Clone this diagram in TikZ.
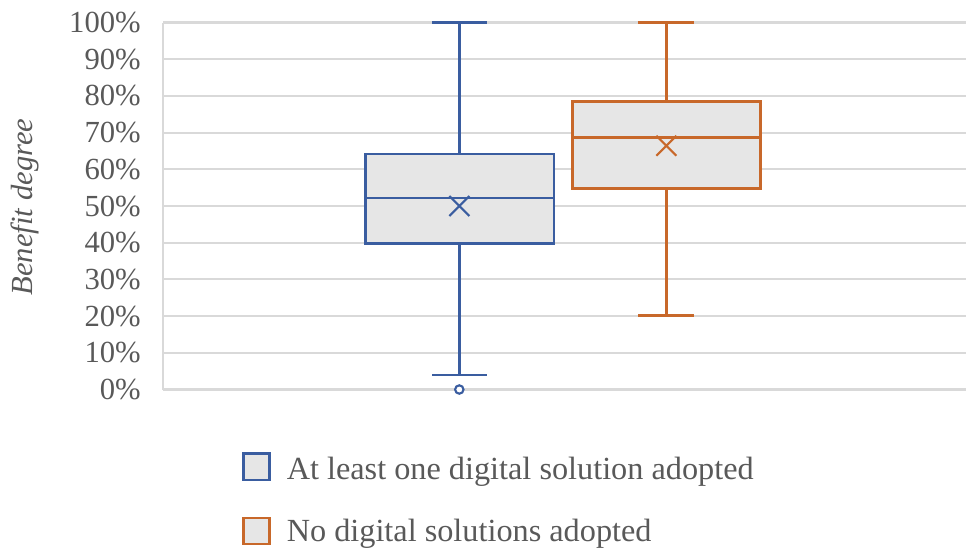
\documentclass[tikz,border=0pt]{standalone}
\usepackage{fontspec}
\setmainfont{Liberation Serif}
\definecolor{gridc}{HTML}{D9D9D9}
\definecolor{txtc}{HTML}{595959}
\definecolor{bluec}{HTML}{3A5DA0}
\definecolor{orangec}{HTML}{C8682A}
\definecolor{fillc}{HTML}{E6E6E6}
\begin{document}
\begin{tikzpicture}[x=0.75pt,y=-0.75pt,
  grid/.style={draw=gridc,line width=1.6pt},
  tick/.style={anchor=east,text=txtc,font=\fontsize{23}{26}\selectfont,inner sep=0pt},
  boxst/.style={line width=1.9pt,fill=fillc},
  whisk/.style={line width=1.9pt},
  legtext/.style={anchor=base west,text=txtc,font=\fontsize{24.2}{27}\selectfont,inner sep=0pt}]
\useasboundingbox (0,0) rectangle (966,551);
% grid
\foreach \v in {0,10,...,100}{
  \draw[grid] (163,{389.5-3.67*\v}) -- (966,{389.5-3.67*\v});
  \node[tick] at (141,{389.5-3.67*\v}) {\v\%};
}
\draw[grid] (163,22.5) -- (163,389.5);
\node[rotate=90,text=txtc,font=\fontsize{23}{26}\selectfont\itshape,inner sep=0pt] (ytitle) at (25,207) {Benefit degree};
% blue box
\draw[whisk,bluec] (459.3,154) -- (459.3,22.5);
\draw[whisk,bluec] (432,22.5) -- (487,22.5);
\draw[whisk,bluec] (459.3,243.7) -- (459.3,375);
\draw[whisk,bluec] (432,375) -- (487,375);
\draw[boxst,draw=bluec] (365.7,154) rectangle (554,243.7);
\draw[whisk,bluec] (365.7,198) -- (554,198);
\draw[line width=1.6pt,bluec] (449.3,196) -- (469.3,216) (449.3,216) -- (469.3,196);
\draw[line width=1.6pt,bluec,fill=white] (459.3,389.5) circle (4.2);
% orange box
\draw[whisk,orangec] (666.3,101.7) -- (666.3,22.5);
\draw[whisk,orangec] (638.3,22.5) -- (694.3,22.5);
\draw[whisk,orangec] (666.3,188.7) -- (666.3,315.7);
\draw[whisk,orangec] (638.3,315.7) -- (694.3,315.7);
\draw[boxst,draw=orangec] (572.3,101.7) rectangle (760.3,188.7);
\draw[whisk,orangec] (572.3,137.3) -- (760.3,137.3);
\draw[line width=1.6pt,orangec] (656.3,135.7) -- (676.3,155.7) (656.3,155.7) -- (676.3,135.7);
% legend
\draw[line width=1.8pt,draw=bluec,fill=fillc] (243.5,453.5) rectangle (269.5,480);
\node[legtext] (l1) at (286.5,479.3) {At least one digital solution adopted};
\draw[line width=1.8pt,draw=orangec,fill=fillc] (243.5,518) rectangle (269.5,544);
\node[legtext] (l2) at (286.5,541.5) {No digital solutions adopted};
\end{tikzpicture}
\end{document}
